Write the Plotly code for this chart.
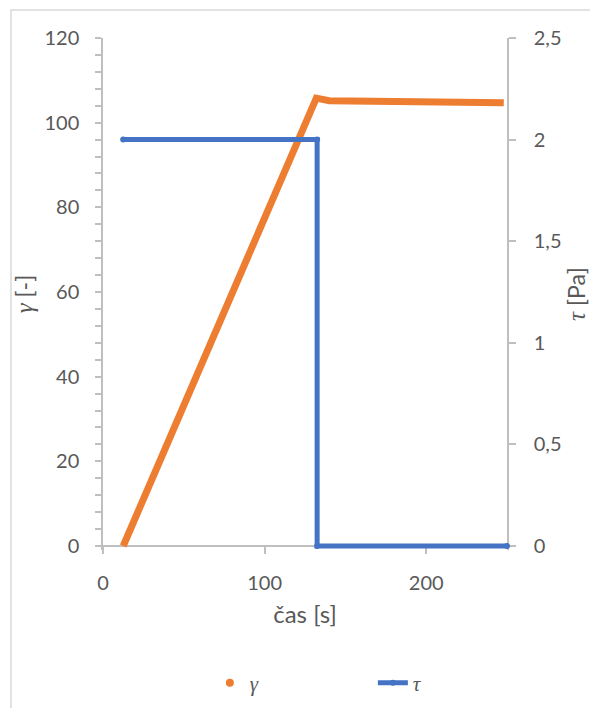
import plotly.graph_objects as go

# ---- data ----
t_gamma = [12.5, 132, 140, 173, 214, 248]
gamma = [0, 105.8, 105.2, 105.0, 104.8, 104.7]

t_tau = [12.5, 132.5, 132.5, 250]
tau = [2, 2, 0, 0]

x_range = [0, 250]
gamma_range = [0, 120]
tau_range = [0, 2.5]

ORANGE = "#ED7D31"
BLUE = "#4472C4"
AXIS = "#BFBFBF"
TEXT = "#595959"
FONT = "Lato"
GREEK = "font-family:'Liberation Serif';font-style:italic"

W, H = 590, 708
L, R, T, B = 103, 83, 38, 158
plot_h = H - T - B
plot_w = W - L - R
pad_px = 4  # extend ranges below zero so lines at 0 are not clipped
g_per_px = (gamma_range[1] - gamma_range[0]) / (plot_h - pad_px)
t_per_px = (tau_range[1] - tau_range[0]) / (plot_h - pad_px)

fig = go.Figure()

# legend-only marker for gamma
fig.add_trace(go.Scatter(
    x=[None], y=[None], mode="markers", name="<i>γ</i>",
    marker=dict(color=ORANGE, size=8), yaxis="y",
))
fig.add_trace(go.Scatter(
    x=t_gamma, y=gamma, mode="lines", showlegend=False,
    line=dict(color=ORANGE, width=7), yaxis="y",
))
fig.add_trace(go.Scatter(
    x=t_tau, y=tau, mode="lines+markers", name="<i>τ</i>",
    line=dict(color=BLUE, width=5), marker=dict(color=BLUE, size=6),
    yaxis="y2", cliponaxis=False,
))

fig.update_layout(
    width=W, height=H,
    margin=dict(l=L, r=R, t=T, b=B, pad=0, autoexpand=False),
    paper_bgcolor="white", plot_bgcolor="white",
    separators=", ",
    font=dict(family=FONT, color=TEXT, size=20),
    showlegend=True,
    legend=dict(
        orientation="h", x=0.668, y=(plot_h - (683 - T)) / plot_h,
        xanchor="center", yanchor="middle",
        font=dict(family="Liberation Serif", size=21, color=TEXT),
        entrywidth=118, entrywidthmode="pixels",
    ),
    xaxis=dict(
        range=x_range, dtick=100, tick0=0, automargin=False,
        showline=True, linecolor=AXIS, linewidth=1.5, layer="below traces",
        ticks="outside", ticklen=7, tickcolor=AXIS, tickwidth=1.5,
        showgrid=False, zeroline=False,
        anchor="free", position=pad_px / plot_h,
        tickfont=dict(size=20, color=TEXT),
        ticklabelstandoff=12,
        title=dict(text="čas [s]", font=dict(size=24, color=TEXT), standoff=12),
    ),
    yaxis=dict(
        range=[gamma_range[0] - pad_px * g_per_px, gamma_range[1]],
        dtick=20, tick0=0, automargin=False,
        showline=True, linecolor=AXIS, linewidth=1.5, layer="below traces",
        ticks="outside", ticklen=6, tickcolor=AXIS, tickwidth=1.5,
        minor=dict(dtick=4, tick0=0, ticks="outside", ticklen=6,
                   tickcolor=AXIS, tickwidth=1.5),
        showgrid=False, zeroline=False,
        tickfont=dict(size=20, color=TEXT),
        ticklabelstandoff=12,
        title=dict(text=f"<span style=\"{GREEK};font-size:25px\">γ</span> [-]",
                   font=dict(size=23, color=TEXT), standoff=4),
    ),
    yaxis2=dict(
        range=[tau_range[0] - pad_px * t_per_px, tau_range[1]],
        dtick=0.5, tick0=0, overlaying="y", side="right", automargin=False,
        showline=True, linecolor=AXIS, linewidth=1.5, layer="below traces",
        ticks="outside", ticklen=7, tickcolor=AXIS, tickwidth=1.5,
        showgrid=False, zeroline=False,
        tickfont=dict(size=20, color=TEXT),
        ticklabelstandoff=14,
        title=dict(text=f"<span style=\"{GREEK};font-size:25px\">τ</span> [Pa]",
                   font=dict(size=23, color=TEXT), standoff=20),
    ),
    shapes=[dict(
        type="rect", xref="paper", yref="paper",
        x0=(11 - L) / plot_w, x1=(W + 10 - L) / plot_w,
        y0=(plot_h + T - (H + 10)) / plot_h, y1=(plot_h + T - 10) / plot_h,
        line=dict(color="#D9D9D9", width=1.5), fillcolor="rgba(0,0,0,0)",
        layer="below",
    )],
)

fig.write_html("out.html")
